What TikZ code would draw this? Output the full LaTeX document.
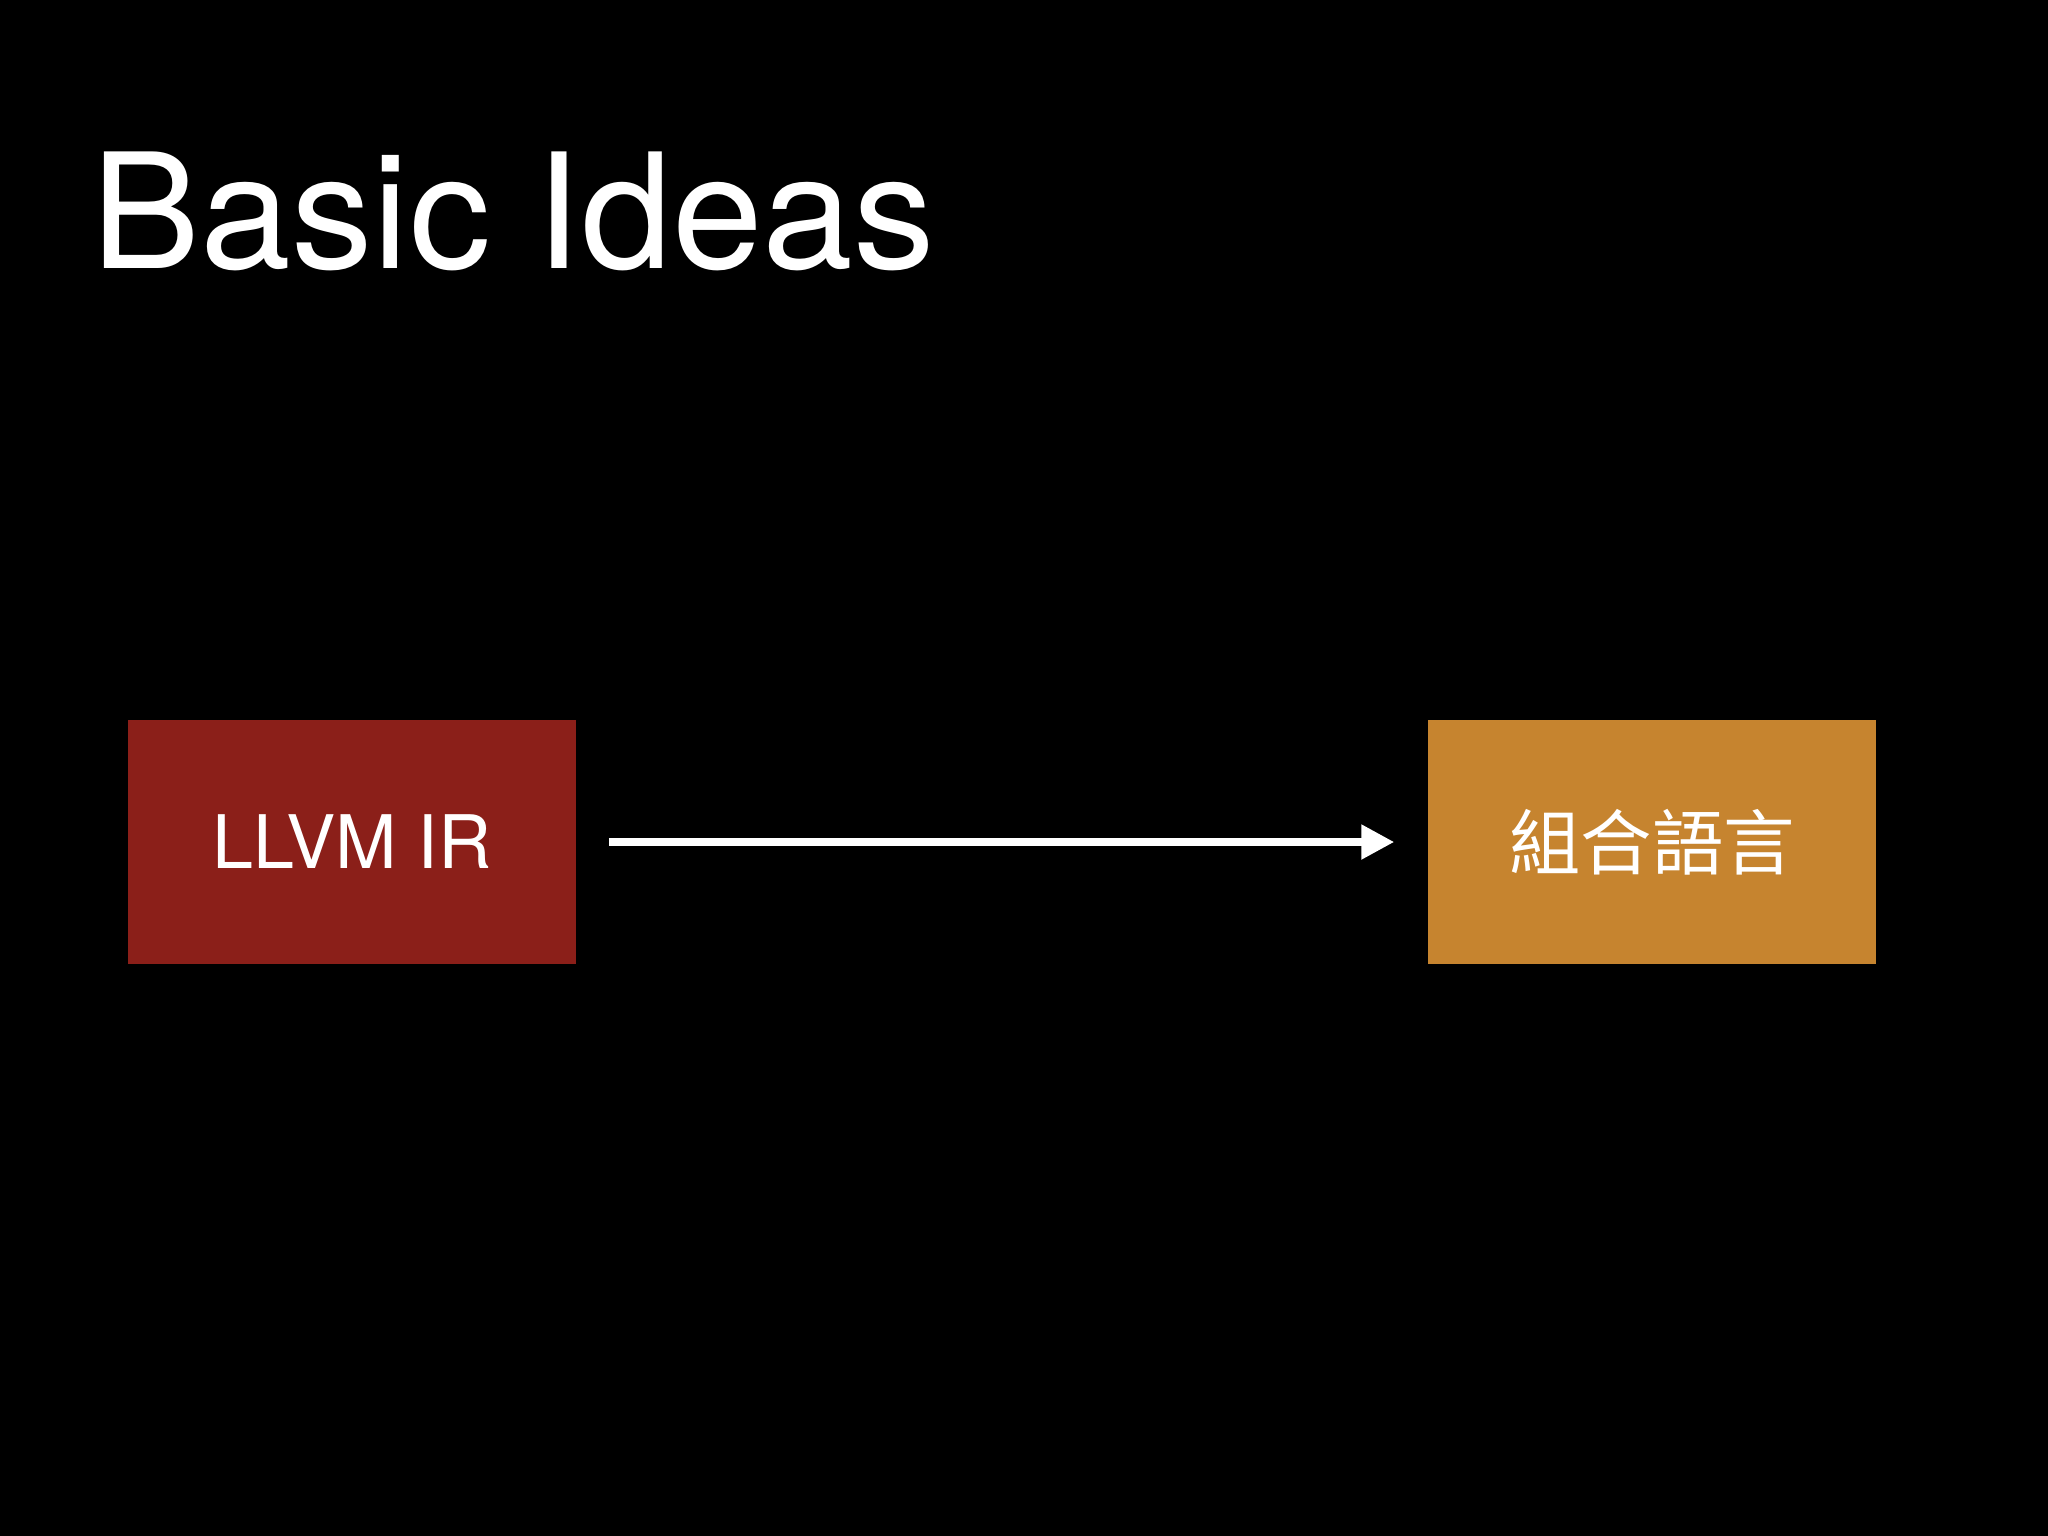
\documentclass[tikz,border=0pt]{standalone}
\usepackage{fontspec}
\setmainfont{TeX Gyre Heros}
\newfontfamily\titlefont{TeX Gyre Heros}[FakeStretch=1.02]
\newfontfamily\cjk{Noto Sans CJK TC}
\usetikzlibrary{arrows.meta, positioning}
\definecolor{irred}{HTML}{8B1F19}
\definecolor{asmorange}{HTML}{C6842F}
\tikzset{box/.style={rectangle,inner sep=0pt,minimum width=4.48cm,minimum height=2.44cm,text=white,font=\fontsize{21}{25}\selectfont},line/.style={-{Triangle[length=0.33cm,width=0.33cm]},white,line width=0.08cm}}

\begin{document}
\begin{tikzpicture}[x=0.01cm, y=-0.01cm, node distance=8.50cm]
\fill[black] (0,0) rectangle (2048,1536);
\node[anchor=base west, inner sep=0pt, text=white, font=\titlefont\fontsize{45.5}{50}\selectfont] (title) at (91,268) {Basic Ideas};
\node[box, fill=irred] (ir) at (352,842) {LLVM IR};
\node[box, fill=asmorange, right=of ir, font=\cjk\fontsize{20.3}{24}\selectfont] (asm) {組合語言};
\draw[line, shorten <=0.32cm, shorten >=0.33cm] (ir) -- (asm);
\end{tikzpicture}
\end{document}
